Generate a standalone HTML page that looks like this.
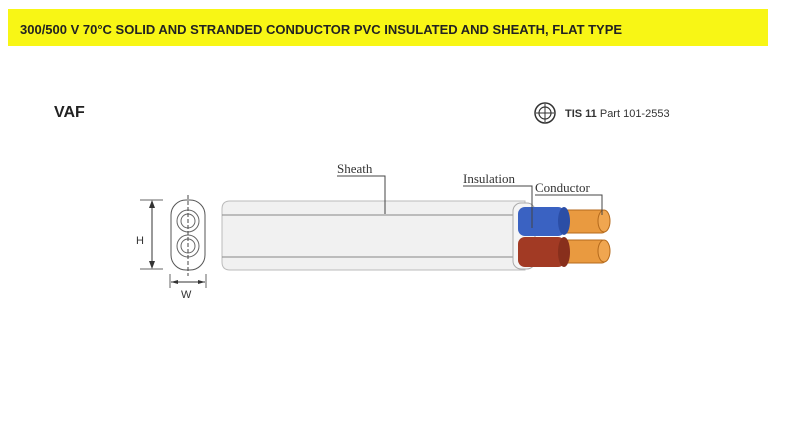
<!DOCTYPE html>
<html><head><style>
body{margin:0;width:798px;height:438px;background:#fff;overflow:hidden;position:relative;font-family:"Liberation Sans",sans-serif}
.bar{position:absolute;left:8px;top:9px;width:760px;height:37px;background:#f8f615}
.bar span{position:absolute;left:12px;top:13px;font-weight:bold;font-size:13px;color:#222;transform:scaleX(1);transform-origin:left;white-space:nowrap}
</style></head><body>
<div class="bar"><span>300/500 V 70°C SOLID AND STRANDED CONDUCTOR PVC INSULATED AND SHEATH, FLAT TYPE</span></div>
<svg width="798" height="438" style="position:absolute;left:0;top:0">
<text x="54" y="117" font-size="16" font-weight="bold" fill="#222">VAF</text>
<circle cx="545" cy="113" r="10" fill="none" stroke="#333" stroke-width="1.5"/>
<circle cx="545" cy="113" r="6" fill="none" stroke="#333" stroke-width="1.2"/>
<line x1="545" y1="104" x2="545" y2="122" stroke="#333"/><line x1="536" y1="113" x2="554" y2="113" stroke="#333"/>
<text x="565" y="117" font-size="11" fill="#333"><tspan font-weight="bold">TIS 11</tspan> Part 101-2553</text>
<rect x="171" y="200" width="34" height="70" rx="15" fill="#fff" stroke="#555"/>
<circle cx="188" cy="221" r="11" fill="none" stroke="#666"/><circle cx="188" cy="221" r="7" fill="none" stroke="#666"/>
<circle cx="188" cy="246" r="11" fill="none" stroke="#666"/><circle cx="188" cy="246" r="7" fill="none" stroke="#666"/>
<line x1="188" y1="195" x2="188" y2="276" stroke="#444" stroke-dasharray="4,2"/>
<line x1="140" y1="200" x2="163" y2="200" stroke="#666"/><line x1="140" y1="269" x2="163" y2="269" stroke="#666"/>
<line x1="152" y1="202" x2="152" y2="267" stroke="#333"/>
<path d="M149 208 L152 200 L155 208Z M149 261 L152 269 L155 261Z" fill="#333"/>
<text x="136" y="244" font-size="11" fill="#333">H</text>
<line x1="170" y1="274" x2="170" y2="288" stroke="#666"/><line x1="206" y1="274" x2="206" y2="288" stroke="#666"/>
<line x1="171" y1="282" x2="205" y2="282" stroke="#333"/>
<path d="M178 280 L171 282 L178 284Z M198 280 L205 282 L198 284Z" fill="#333"/>
<text x="181" y="298" font-size="11" fill="#333">W</text>
<path d="M230 201 L525 201 L525 270 L230 270 Q222 270 222 262 L222 209 Q222 201 230 201Z" fill="#f1f1f1" stroke="#bbb"/>
<line x1="222" y1="215" x2="515" y2="215" stroke="#888"/>
<line x1="222" y1="257" x2="515" y2="257" stroke="#888"/>
<rect x="513" y="203" width="22" height="66" rx="8" fill="#f5f5f5" stroke="#aaa"/>
<rect x="560" y="210" width="46" height="23" rx="4" fill="#e99a40" stroke="#b56a1c"/>
<ellipse cx="604" cy="221" rx="6" ry="11" fill="#f0a650" stroke="#b56a1c"/>
<rect x="560" y="240" width="46" height="23" rx="4" fill="#e99a40" stroke="#b56a1c"/>
<ellipse cx="604" cy="251" rx="6" ry="11" fill="#f0a650" stroke="#b56a1c"/>
<rect x="518" y="207" width="47" height="29" rx="7" fill="#3a62c2"/>
<ellipse cx="564" cy="221" rx="6" ry="14" fill="#2b4ea6"/>
<rect x="518" y="237" width="47" height="30" rx="7" fill="#a23a24"/>
<ellipse cx="564" cy="252" rx="6" ry="15" fill="#882f1c"/>
<g font-family="Liberation Serif,serif" font-size="13" fill="#333">
<text x="337" y="173">Sheath</text>
<text x="463" y="183">Insulation</text>
<text x="535" y="192">Conductor</text>
</g>
<g stroke="#444" fill="none">
<path d="M337 176 L385 176 L385 214"/>
<path d="M463 186 L532 186 L532 228"/>
<path d="M535 195 L602 195 L602 215"/>
</g>
</svg>
</body></html>
